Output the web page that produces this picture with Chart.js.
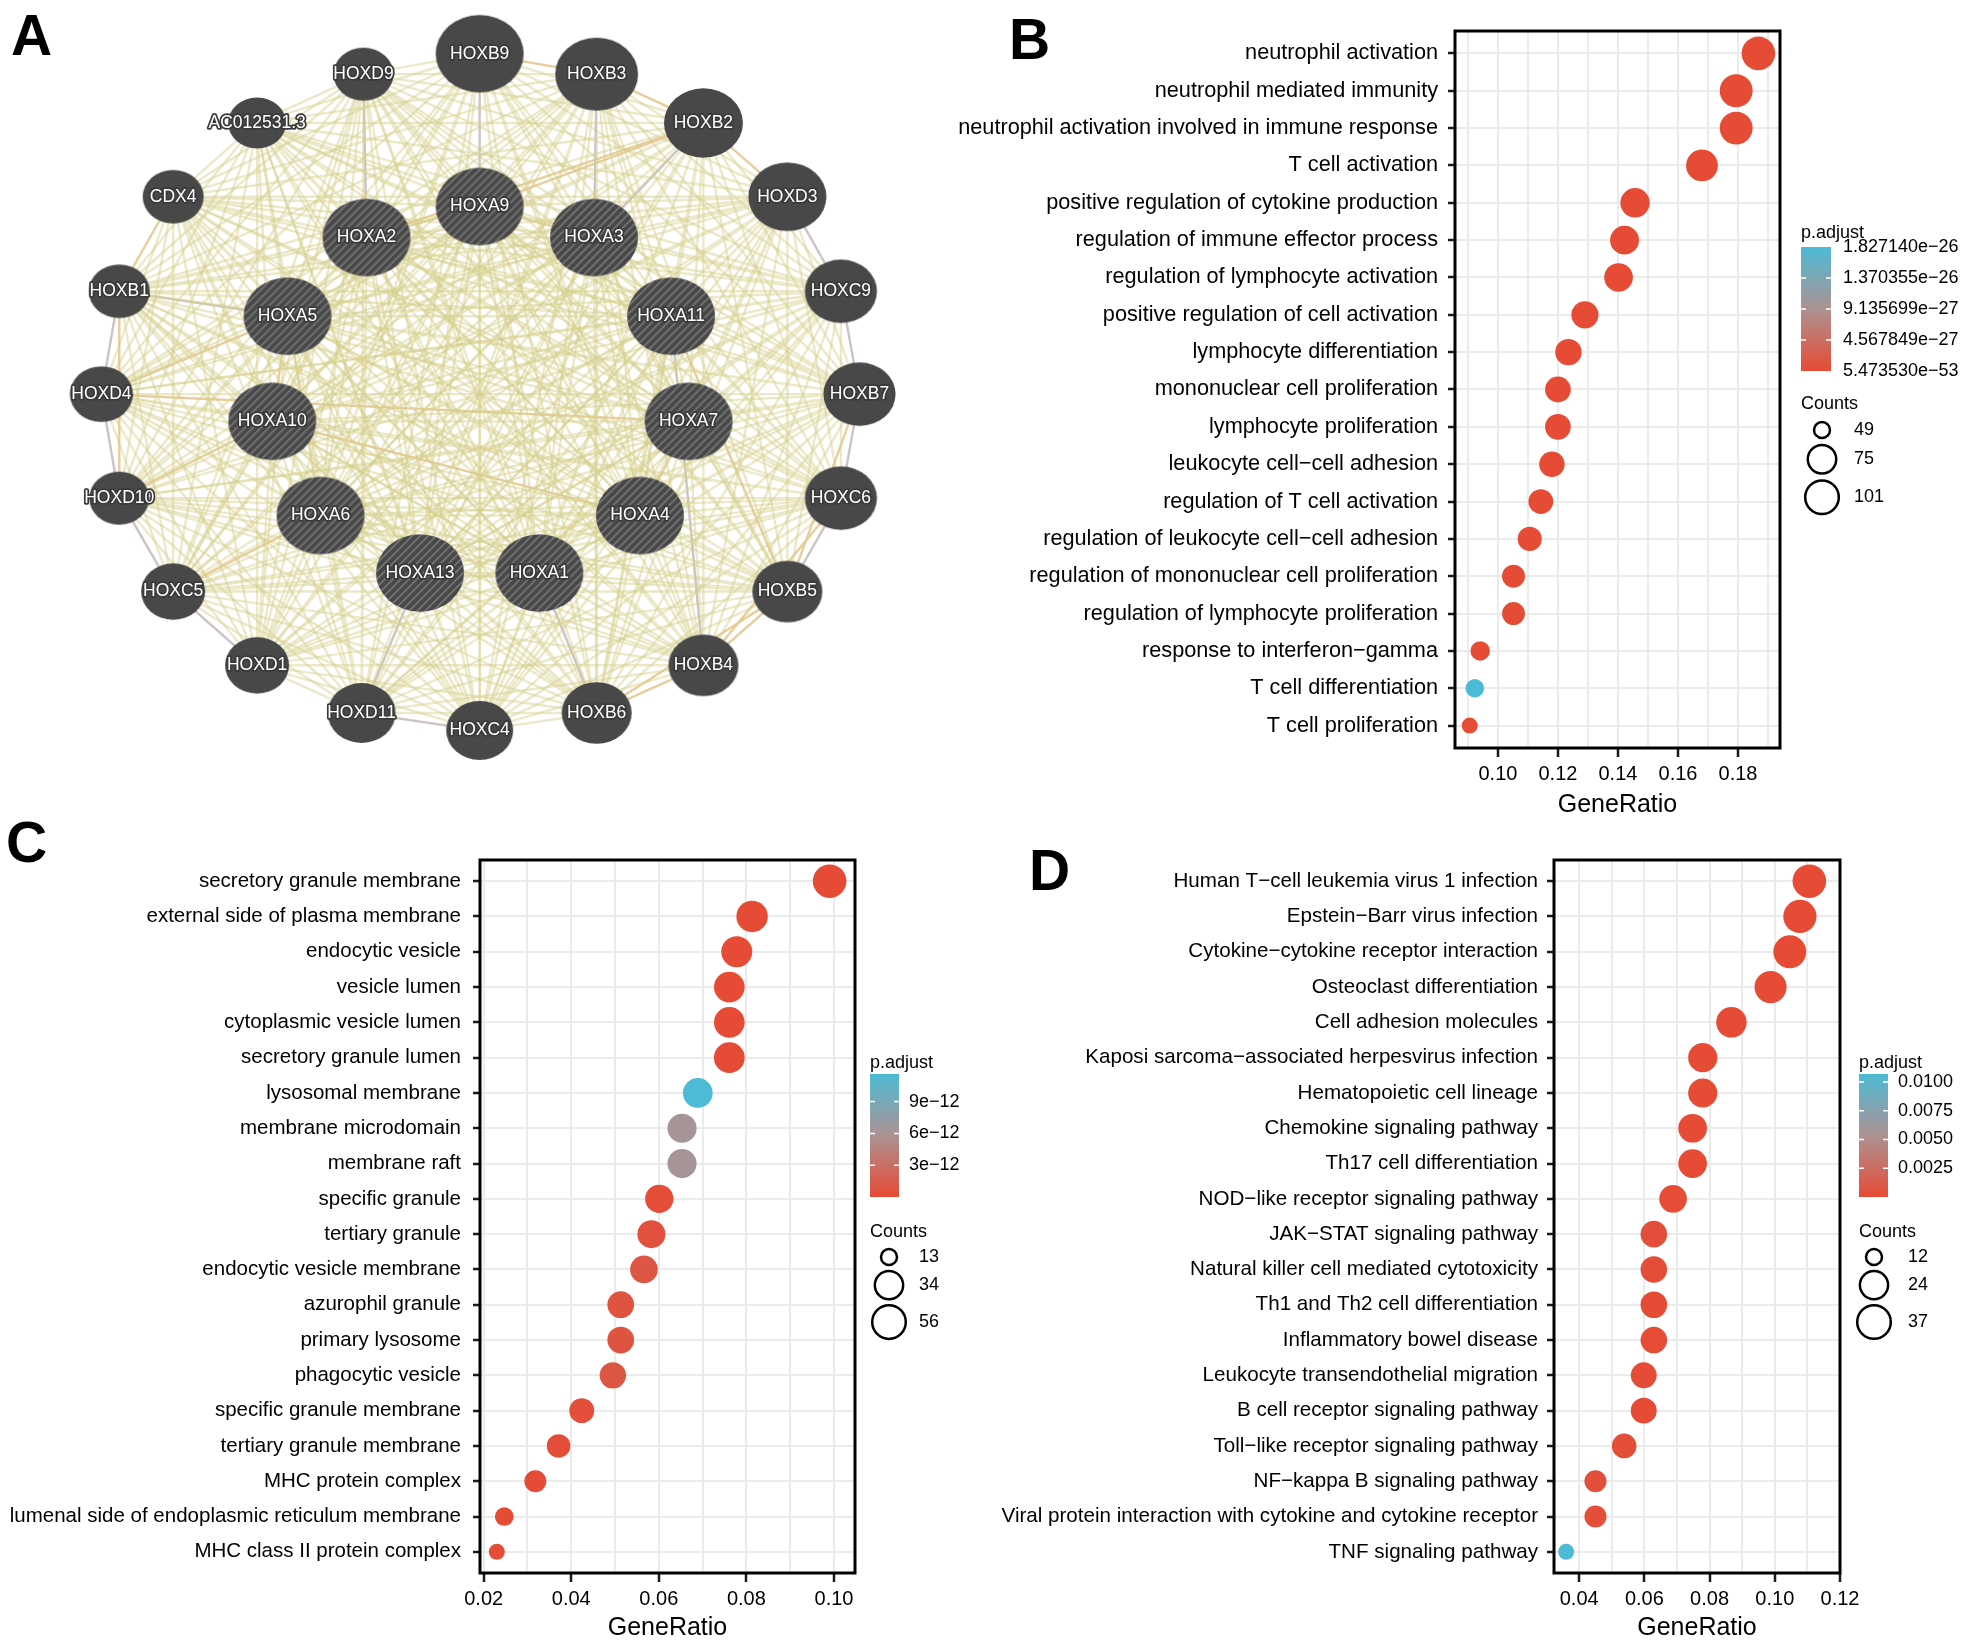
<!DOCTYPE html>
<html>
<head>
<meta charset="utf-8">
<script src="https://cdn.jsdelivr.net/npm/chart.js@4.4.1/dist/chart.umd.min.js"></script>
<style>
  html, body { margin: 0; padding: 0; background: #fff; }
  #page { position: relative; width: 1965px; height: 1651px; overflow: hidden; font-family: "Liberation Sans", Arial, sans-serif; }
  canvas { position: absolute; }
  .tag { position: absolute; font-weight: bold; font-size: 57px; line-height: 1; color: #000; }
</style>
</head>
<body>
<div id="page">
  <canvas id="netA" width="940" height="800" style="left:0;top:0"></canvas>
  <canvas id="dotB" width="1025" height="830" style="left:940px;top:0"></canvas>
  <canvas id="dotC" width="975" height="821" style="left:0;top:830px"></canvas>
  <canvas id="dotD" width="990" height="821" style="left:975px;top:830px"></canvas>
  <div class="tag" style="left:11px;top:7px">A</div>
  <div class="tag" style="left:1009px;top:11px">B</div>
  <div class="tag" style="left:6px;top:814px">C</div>
  <div class="tag" style="left:1029px;top:842px">D</div>
</div>
<script>
// ---------- panel A : GeneMANIA network ----------
const nodeNames = [
  "HOXB9", "HOXB3", "HOXB2", "HOXD3", "HOXC9", "HOXB7", "HOXC6", "HOXB5", "HOXB4", "HOXB6",
  "HOXC4", "HOXD11", "HOXD1", "HOXC5", "HOXD10", "HOXD4", "HOXB1", "CDX4", "AC012531.3", "HOXD9",
  "HOXA9", "HOXA3", "HOXA11", "HOXA7", "HOXA4", "HOXA1", "HOXA13", "HOXA6", "HOXA10", "HOXA5", "HOXA2",
];
// circular layout coordinates (outer ring = related genes, inner ring = query genes)
const nodeX = [
  0, 0.308, 0.589, 0.810, 0.951, 1.0, 0.951, 0.810, 0.589, 0.308,
  0, -0.311, -0.586, -0.807, -0.949, -0.996, -0.949, -0.807, -0.586, -0.306,
  0, 0.301, 0.504, 0.550, 0.422, 0.157, -0.157, -0.419, -0.546, -0.506, -0.298,
];
const nodeY = [
  0.900, 0.846, 0.717, 0.522, 0.272, 0, -0.275, -0.522, -0.717, -0.843,
  -0.889, -0.843, -0.717, -0.522, -0.275, 0, 0.272, 0.522, 0.717, 0.846,
  0.496, 0.414, 0.206, -0.072, -0.321, -0.473, -0.473, -0.321, -0.072, 0.206, 0.414,
];
// relative gene score (drives node size)
const nodeScore = [
  1.0, 0.83, 0.70, 0.67, 0.47, 0.47, 0.47, 0.40, 0.40, 0.40,
  0.30, 0.33, 0.20, 0.20, 0.07, 0.17, 0.10, 0.10, 0.0, 0.07,
  1, 1, 1, 1, 1, 1, 1, 1, 1, 1, 1,
];
const queryGenes = ["HOXA9", "HOXA3", "HOXA11", "HOXA7", "HOXA4", "HOXA1", "HOXA13", "HOXA6", "HOXA10", "HOXA5", "HOXA2"];
// predicted (orange) and co-expression (lavender) links
const predictedEdges = [
  ["HOXB9", "HOXB3"], ["HOXB3", "HOXB2"], ["HOXB2", "HOXA9"], ["HOXA2", "HOXA9"], ["HOXA9", "HOXA3"],
  ["HOXB5", "HOXB6"], ["HOXB4", "HOXB6"], ["HOXB4", "HOXB5"], ["HOXB7", "HOXB5"], ["HOXD10", "HOXA10"],
  ["HOXD4", "HOXA5"], ["CDX4", "HOXB1"], ["HOXA5", "HOXA10"], ["HOXB1", "HOXD10"], ["HOXA7", "HOXA4"],
  ["HOXB2", "HOXD3"], ["HOXA2", "HOXB2"], ["HOXD4", "HOXA7"], ["HOXA10", "HOXA4"], ["HOXC5", "HOXA6"],
  ["HOXB5", "HOXA11"], ["HOXC6", "HOXB4"],
];
const coexpEdges = [
  ["HOXD4", "HOXD10"], ["HOXB1", "HOXD4"], ["HOXC5", "HOXD1"], ["HOXD3", "HOXC9"], ["HOXC9", "HOXB7"],
  ["HOXB9", "HOXA9"], ["HOXB3", "HOXA3"], ["HOXB7", "HOXC6"], ["HOXD11", "HOXC4"], ["HOXD9", "HOXA2"],
  ["HOXA1", "HOXB6"], ["HOXA13", "HOXD11"], ["HOXC6", "HOXB5"], ["HOXD10", "HOXC5"], ["HOXB2", "HOXA3"],
  ["HOXA11", "HOXB4"], ["HOXA5", "HOXB1"],
];

// ---------- panel B : GO biological process ----------
const termsB = [
  "neutrophil activation", "neutrophil mediated immunity", "neutrophil activation involved in immune response",
  "T cell activation", "positive regulation of cytokine production", "regulation of immune effector process",
  "regulation of lymphocyte activation", "positive regulation of cell activation", "lymphocyte differentiation",
  "mononuclear cell proliferation", "lymphocyte proliferation", "leukocyte cell−cell adhesion",
  "regulation of T cell activation", "regulation of leukocyte cell−cell adhesion",
  "regulation of mononuclear cell proliferation", "regulation of lymphocyte proliferation",
  "response to interferon−gamma", "T cell differentiation", "T cell proliferation",
];
const ratioB = [0.1868, 0.1794, 0.1794, 0.1680, 0.1457, 0.1422, 0.1402, 0.1290, 0.1235, 0.1200, 0.1200, 0.1180, 0.1143, 0.1106, 0.1052, 0.1052, 0.0941, 0.0923, 0.0906];
const countsB = [101, 97, 97, 91, 79, 77, 76, 70, 67, 65, 65, 64, 62, 60, 57, 57, 51, 50, 49];
const padjB = [5.47353e-53, 1.9e-49, 1.9e-49, 6.6e-44, 2.4e-37, 5.2e-36, 1.2e-35, 3.9e-32, 5.5e-31, 4.6e-31, 4.6e-31, 1.5e-30, 2.8e-30, 8.5e-30, 1.1e-28, 1.1e-28, 1.4e-28, 1.82714e-26, 2.1e-28];
const gridB = [0.09, 0.10, 0.11, 0.12, 0.13, 0.14, 0.15, 0.16, 0.17, 0.18, 0.19];
const majorB = [0.10, 0.12, 0.14, 0.16, 0.18];
const padjTicksB = [1.82714e-26, 1.370355e-26, 9.135699e-27, 4.567849e-27, 5.47353e-53];
const padjLabelsB = ["1.827140e−26", "1.370355e−26", "9.135699e−27", "4.567849e−27", "5.473530e−53"];
const countKeysB = [49, 75, 101];

// ---------- panel C : GO cellular component ----------
const termsC = [
  "secretory granule membrane", "external side of plasma membrane", "endocytic vesicle", "vesicle lumen",
  "cytoplasmic vesicle lumen", "secretory granule lumen", "lysosomal membrane", "membrane microdomain",
  "membrane raft", "specific granule", "tertiary granule", "endocytic vesicle membrane", "azurophil granule",
  "primary lysosome", "phagocytic vesicle", "specific granule membrane", "tertiary granule membrane",
  "MHC protein complex", "lumenal side of endoplasmic reticulum membrane", "MHC class II protein complex",
];
const ratioC = [0.0990, 0.0813, 0.0778, 0.0761, 0.0761, 0.0761, 0.0689, 0.0653, 0.0653, 0.0601, 0.0583, 0.0566, 0.0513, 0.0513, 0.0495, 0.0424, 0.0371, 0.0318, 0.0247, 0.0230];
const countsC = [56, 46, 44, 43, 43, 43, 39, 37, 37, 34, 33, 32, 29, 29, 28, 24, 21, 18, 14, 13];
const padjC = [1.2e-22, 3.6e-19, 2.2e-16, 4.1e-15, 4.1e-15, 4.1e-15, 1.16e-11, 6.2e-12, 6.2e-12, 1.9e-13, 5.2e-13, 9.4e-13, 7.1e-13, 7.1e-13, 8.8e-13, 3.3e-13, 2.1e-13, 1.4e-14, 6.5e-14, 3.2e-15];
const gridC = [0.02, 0.03, 0.04, 0.05, 0.06, 0.07, 0.08, 0.09, 0.10];
const majorC = [0.02, 0.04, 0.06, 0.08, 0.10];
const padjTicksC = [9e-12, 6e-12, 3e-12];
const padjLabelsC = ["9e−12", "6e−12", "3e−12"];
const countKeysC = [13, 34, 56];

// ---------- panel D : KEGG ----------
const termsD = [
  "Human T−cell leukemia virus 1 infection", "Epstein−Barr virus infection", "Cytokine−cytokine receptor interaction",
  "Osteoclast differentiation", "Cell adhesion molecules", "Kaposi sarcoma−associated herpesvirus infection",
  "Hematopoietic cell lineage", "Chemokine signaling pathway", "Th17 cell differentiation",
  "NOD−like receptor signaling pathway", "JAK−STAT signaling pathway", "Natural killer cell mediated cytotoxicity",
  "Th1 and Th2 cell differentiation", "Inflammatory bowel disease", "Leukocyte transendothelial migration",
  "B cell receptor signaling pathway", "Toll−like receptor signaling pathway", "NF−kappa B signaling pathway",
  "Viral protein interaction with cytokine and cytokine receptor", "TNF signaling pathway",
];
const ratioD = [0.1106, 0.1077, 0.1046, 0.0987, 0.0867, 0.0779, 0.0779, 0.0748, 0.0748, 0.0688, 0.0629, 0.0629, 0.0629, 0.0629, 0.0598, 0.0598, 0.0538, 0.0450, 0.0450, 0.0360];
const countsD = [37, 36, 35, 33, 29, 26, 26, 25, 25, 23, 21, 21, 21, 21, 20, 20, 18, 15, 15, 12];
const padjD = [2.1e-9, 6.3e-9, 4.4e-9, 1.8e-10, 7.5e-8, 3.6e-5, 1.2e-8, 2.2e-5, 5.1e-7, 1.3e-4, 2.6e-4, 1.9e-4, 2.3e-5, 3.9e-5, 1.1e-4, 1.8e-5, 2.4e-4, 3.1e-4, 2.9e-4, 1.07e-2];
const gridD = [0.04, 0.05, 0.06, 0.07, 0.08, 0.09, 0.10, 0.11, 0.12];
const majorD = [0.04, 0.06, 0.08, 0.10, 0.12];
const padjTicksD = [0.01, 0.0075, 0.005, 0.0025];
const padjLabelsD = ["0.0100", "0.0075", "0.0050", "0.0025"];
const countKeysD = [12, 24, 37];

Chart.defaults.font.family = '"Liberation Sans", Arial, sans-serif';
Chart.defaults.color = "#000";

// colour ramp red -> grey -> blue (low -> high p.adjust)
const RED = [230, 75, 53], MID = [172, 146, 146], BLUE = [77, 187, 213];
const padjColor = (t) => {
  t = Math.max(0, Math.min(1, t));
  const [a, b, u] = t < 0.5 ? [RED, MID, t * 2] : [MID, BLUE, (t - 0.5) * 2];
  return "rgb(" + a.map((v, k) => Math.round(v + (b[k] - v) * u)).join(",") + ")";
};
// ggplot style area scale for Counts
const sizeOf = (c, cMin, cMax) => 8 + 8.8 * Math.sqrt((c - cMin) / (cMax - cMin));

// panel frame + p.adjust colourbar + Counts key
const dotLegend = {
  id: "dotLegend",
  afterDraw(chart, args, o) {
    const ctx = chart.ctx;
    const a = chart.chartArea;
    ctx.save();
    ctx.strokeStyle = "#000";
    ctx.lineWidth = 3;
    ctx.strokeRect(a.left, a.top, a.right - a.left, a.bottom - a.top);

    ctx.font = '18px "Liberation Sans", Arial, sans-serif';
    ctx.fillStyle = "#000";
    ctx.textAlign = "left";
    ctx.textBaseline = "middle";
    ctx.fillText("p.adjust", o.x, o.titleY);

    const h = o.barBottom - o.barTop;
    const g = ctx.createLinearGradient(0, o.barBottom, 0, o.barTop);
    g.addColorStop(0, padjColor(0));
    g.addColorStop(0.5, padjColor(0.5));
    g.addColorStop(1, padjColor(1));
    ctx.fillStyle = g;
    ctx.fillRect(o.x, o.barTop, o.barW, h);

    o.ticks.forEach((v, i) => {
      const y = o.barBottom - ((v - o.pMin) / (o.pMax - o.pMin)) * h;
      if (y > o.barTop + 2 && y < o.barBottom - 2) {
        ctx.strokeStyle = "#fff";
        ctx.lineWidth = 1.5;
        ctx.beginPath();
        ctx.moveTo(o.x, y); ctx.lineTo(o.x + 5, y);
        ctx.moveTo(o.x + o.barW - 5, y); ctx.lineTo(o.x + o.barW, y);
        ctx.stroke();
      }
      ctx.fillStyle = "#000";
      ctx.fillText(o.labels[i], o.labelX, y);
    });

    ctx.fillText("Counts", o.x, o.countsY);
    let cy = o.firstKeyY, prevR = 0;
    o.keys.forEach((c, i) => {
      const r = sizeOf(c, o.cMin, o.cMax);
      if (i > 0) cy += prevR + r + o.keyGap;
      ctx.strokeStyle = "#000";
      ctx.lineWidth = 2.5;
      ctx.beginPath();
      ctx.arc(o.keyX, cy, r, 0, Math.PI * 2);
      ctx.stroke();
      ctx.fillStyle = "#000";
      ctx.fillText(String(c), o.keyLabelX, cy);
      prevR = r;
    });
    ctx.restore();
  },
};

const dotChart = (id, terms, ratios, counts, padj, ax, lg) => {
  const cMin = Math.min(...counts), cMax = Math.max(...counts);
  const pMin = Math.min(...padj), pMax = Math.max(...padj);
  return new Chart(document.getElementById(id), {
    type: "bubble",
    data: {
      datasets: [{
        data: terms.map((t, i) => ({ x: ratios[i], y: i, r: sizeOf(counts[i], cMin, cMax) })),
        backgroundColor: padj.map((p) => padjColor((p - pMin) / (pMax - pMin))),
        borderWidth: 0,
        hoverRadius: 0,
        clip: false,
      }],
    },
    options: {
      responsive: false,
      animation: false,
      events: [],
      layout: { padding: ax.padding },
      plugins: {
        legend: { display: false },
        tooltip: { enabled: false },
        dotLegend: Object.assign({ pMin, pMax, cMin, cMax }, lg),
      },
      scales: {
        x: {
          type: "linear",
          min: ax.xMin,
          max: ax.xMax,
          afterBuildTicks: (s) => { s.ticks = ax.grid.map((v) => ({ value: v })); },
          afterFit: (s) => { s.height = ax.xHeight; },
          border: { display: false },
          grid: {
            color: "#ebebeb",
            lineWidth: 2,
            tickLength: 9,
            tickWidth: 2.5,
            tickColor: (c) => (c.tick && ax.major.includes(c.tick.value) ? "#1a1a1a" : "rgba(0,0,0,0)"),
          },
          ticks: {
            autoSkip: false,
            maxRotation: 0,
            padding: 5,
            color: "#000",
            font: { size: 20 },
            callback: (v) => (ax.major.includes(v) ? v.toFixed(2) : ""),
          },
          title: { display: true, text: "GeneRatio", color: "#000", font: { size: 25 }, padding: { top: 0, bottom: ax.titlePad } },
        },
        y: {
          // discrete axis with ggplot's 0.6 expansion on both ends
          type: "linear",
          min: -0.6,
          max: terms.length - 0.4,
          reverse: true,
          afterBuildTicks: (s) => { s.ticks = terms.map((t, i) => ({ value: i })); },
          afterFit: (s) => { s.width = ax.yWidth; },
          border: { display: false },
          grid: { color: "#ebebeb", lineWidth: 2, tickLength: 7, tickWidth: 2.5, tickColor: "#1a1a1a" },
          ticks: {
            autoSkip: false,
            padding: ax.labelPad,
            color: "#000",
            font: { size: ax.fontSize },
            callback: (v) => terms[v],
          },
        },
      },
    },
    plugins: [dotLegend],
  });
};

dotChart("dotB", termsB, ratioB, countsB, padjB,
  { xMin: 0.0857, xMax: 0.194, grid: gridB, major: majorB, yWidth: 515, xHeight: 82, titlePad: 10,
    fontSize: 21.7, labelPad: 10, padding: { left: 0, top: 31, right: 185, bottom: 0 } },
  { x: 861, titleY: 233, barTop: 247, barBottom: 371, barW: 30, labelX: 903, ticks: padjTicksB, labels: padjLabelsB,
    countsY: 404, keys: countKeysB, keyX: 882, firstKeyY: 430, keyGap: 7, keyLabelX: 914 });

dotChart("dotC", termsC, ratioC, countsC, padjC,
  { xMin: 0.01916, xMax: 0.1048, grid: gridC, major: majorC, yWidth: 480, xHeight: 78, titlePad: 8,
    fontSize: 20.5, labelPad: 12, padding: { left: 0, top: 30, right: 120, bottom: 0 } },
  { x: 870, titleY: 233, barTop: 244, barBottom: 367, barW: 29, labelX: 909, ticks: padjTicksC, labels: padjLabelsC,
    countsY: 402, keys: countKeysC, keyX: 889, firstKeyY: 427, keyGap: 6, keyLabelX: 919 });

dotChart("dotD", termsD, ratioD, countsD, padjD,
  { xMin: 0.03228, xMax: 0.12, grid: gridD, major: majorD, yWidth: 579, xHeight: 78, titlePad: 8,
    fontSize: 20.6, labelPad: 9, padding: { left: 0, top: 30, right: 125, bottom: 0 } },
  { x: 884, titleY: 233, barTop: 244, barBottom: 367, barW: 29, labelX: 923, ticks: padjTicksD, labels: padjLabelsD,
    countsY: 402, keys: countKeysD, keyX: 899, firstKeyY: 427, keyGap: 6, keyLabelX: 933 });

// ---------- network drawing ----------
const nodeImage = (rx, ry, hatched) => {
  const c = document.createElement("canvas");
  c.width = Math.ceil(rx * 2) + 2;
  c.height = Math.ceil(ry * 2) + 2;
  const g = c.getContext("2d");
  g.beginPath();
  g.ellipse(c.width / 2, c.height / 2, rx, ry, 0, 0, Math.PI * 2);
  g.fillStyle = "#484848";
  g.fill();
  if (hatched) {
    g.save();
    g.clip();
    g.strokeStyle = "rgba(140,140,140,0.8)";
    g.lineWidth = 1.4;
    for (let k = -c.height; k < c.width; k += 8) {
      g.beginPath();
      g.moveTo(k, c.height);
      g.lineTo(k + c.height, 0);
      g.stroke();
    }
    g.restore();
  }
  return c;
};
const nodeImgs = nodeNames.map((n, i) => {
  const rx = 29 + 15 * nodeScore[i];
  return nodeImage(rx, rx * 0.88, queryGenes.includes(n));
});
const pos = (n) => { const i = nodeNames.indexOf(n); return { x: nodeX[i], y: nodeY[i] }; };
const GAP = { x: NaN, y: NaN };

// shared protein domain links: every HOX gene pair shares the homeobox
const edgeSets = [];
nodeNames.forEach((a, i) => {
  const pts = [];
  nodeNames.slice(i + 1).forEach((b) => { pts.push(pos(a), pos(b), GAP); });
  if (pts.length) edgeSets.push({ pts, color: "rgba(214,206,140,0.46)", width: 2.4 });
});
const linkSet = (list, color) => {
  const pts = [];
  list.forEach(([a, b]) => pts.push(pos(a), pos(b), GAP));
  return { pts, color, width: 2.2 };
};
edgeSets.push(linkSet(predictedEdges, "rgba(242,162,100,0.55)"));
edgeSets.push(linkSet(coexpEdges, "rgba(158,138,240,0.6)"));

const nodeLabels = {
  id: "nodeLabels",
  afterDatasetsDraw(chart) {
    const ctx = chart.ctx;
    const meta = chart.getDatasetMeta(0);
    ctx.save();
    ctx.font = '17.5px "Liberation Sans", Arial, sans-serif';
    ctx.textAlign = "center";
    ctx.textBaseline = "middle";
    ctx.lineJoin = "round";
    meta.data.forEach((pt, i) => {
      ctx.strokeStyle = "#3a3a3a";
      ctx.lineWidth = 3.5;
      ctx.strokeText(nodeNames[i], pt.x, pt.y);
      ctx.fillStyle = "#fff";
      ctx.fillText(nodeNames[i], pt.x, pt.y);
    });
    ctx.restore();
  },
};

new Chart(document.getElementById("netA"), {
  type: "scatter",
  data: {
    datasets: [
      {
        data: nodeNames.map((n, i) => ({ x: nodeX[i], y: nodeY[i] })),
        pointStyle: nodeImgs,
        pointRadius: 10,
        hoverRadius: 10,
        order: 0,
        clip: false,
      },
      ...edgeSets.map((e) => ({
        data: e.pts,
        showLine: true,
        borderColor: e.color,
        borderWidth: e.width,
        pointRadius: 0,
        order: 1,
        clip: false,
      })),
    ],
  },
  options: {
    responsive: false,
    animation: false,
    events: [],
    layout: { padding: 0 },
    plugins: { legend: { display: false }, tooltip: { enabled: false } },
    scales: {
      x: { type: "linear", min: -1.234, max: 1.183, display: false },
      y: { type: "linear", min: -1.044, max: 1.013, display: false },
    },
  },
  plugins: [nodeLabels],
});
</script>
</body>
</html>
